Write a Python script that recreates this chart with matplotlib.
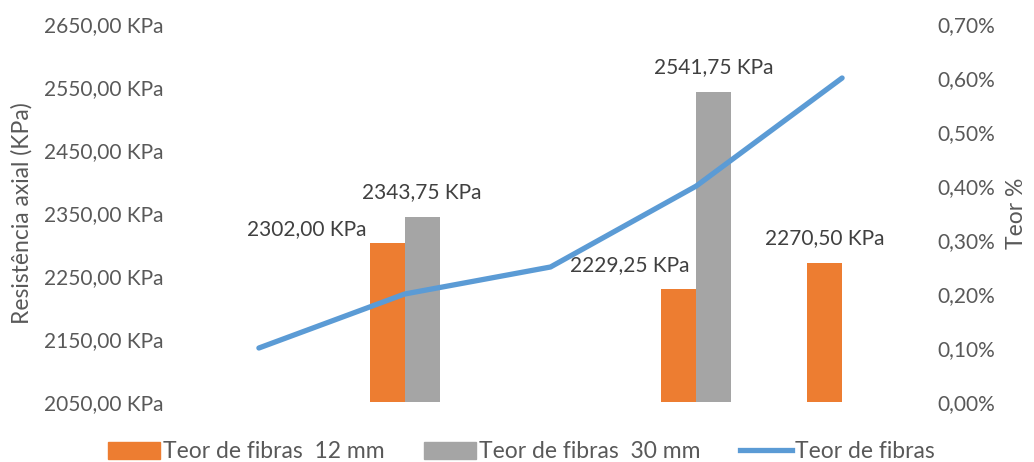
import numpy as np
import matplotlib.pyplot as plt
from matplotlib.ticker import FuncFormatter
from matplotlib.patches import Patch
from matplotlib.lines import Line2D

plt.rcParams['font.family'] = ['Lato', 'DejaVu Sans']

# dados do ensaio
categorias = ["1", "2", "3", "4", "5"]
res_12mm = [np.nan, 2302.00, np.nan, 2229.25, 2270.50]
res_30mm = [np.nan, 2343.75, np.nan, 2541.75, np.nan]
teor_fibras = [0.10, 0.20, 0.25, 0.40, 0.60]   # em %

laranja = "#ED7D31"
cinza = "#A5A5A5"
azul = "#5B9BD5"
txt = "#595959"
rot = "#404040"

fig = plt.figure(figsize=(10.34, 4.62), dpi=100)
ax = fig.add_axes([186 / 1034, 60 / 462, 729 / 1034, 378 / 462])
ax2 = ax.twinx()

x = np.arange(len(categorias))
w = 0.24
b1 = ax.bar(x - w / 2, np.array(res_12mm) - 2050, w, bottom=2050, color=laranja)
b2 = ax.bar(x + w / 2, np.array(res_30mm) - 2050, w, bottom=2050, color=cinza)

ax2.plot(x, teor_fibras, color=azul, lw=3.8, solid_capstyle='round', solid_joinstyle='round')

ax.set_xlim(-0.5, len(categorias) - 0.5)
ax.set_ylim(2050, 2650)
ax.set_yticks(np.arange(2050, 2651, 100))
ax2.set_ylim(0, 0.7)
ax2.set_yticks(np.arange(0, 0.71, 0.1))

fmt_kpa = FuncFormatter(lambda v, p: f"{v:.2f}".replace(".", ",") + " KPa")
fmt_pct = FuncFormatter(lambda v, p: f"{v:.2f}".replace(".", ",") + "%")
ax.yaxis.set_major_formatter(fmt_kpa)
ax2.yaxis.set_major_formatter(fmt_pct)

for a in (ax, ax2):
    for s in a.spines.values():
        s.set_visible(False)
    a.tick_params(length=0, labelsize=15, colors=txt)
ax.set_xticks([])
ax.tick_params(axis='y', pad=16.5)
ax2.tick_params(axis='y', pad=16)

ax.set_ylabel("Resistência axial (KPa)", fontsize=16.5, color=txt, labelpad=8)
ax2.set_ylabel("Teor %", fontsize=16.5, color=txt, labelpad=8)

# rótulos de dados (deslocamento em px)
desl_12 = [None, (-80, 14), None, (-49, 24), (0, 25)]
desl_30 = [None, (0, 25), None, (0, 25), None]
for barras, vals, desl in ((b1, res_12mm, desl_12), (b2, res_30mm, desl_30)):
    for bar, v, d in zip(barras, vals, desl):
        if np.isnan(v):
            continue
        ax.annotate(f"{v:.2f}".replace(".", ",") + " KPa",
                    xy=(bar.get_x() + bar.get_width() / 2, v),
                    xytext=(d[0] * 0.72, d[1] * 0.72), textcoords='offset points',
                    ha='center', va='center', fontsize=15, color=rot)

handles = [Patch(color=laranja), Patch(color=cinza), Line2D([], [], color=azul, lw=3.8)]
labels = ["Teor de fibras  12 mm", "Teor de fibras  30 mm", "Teor de fibras"]
leg = fig.legend(handles, labels, loc='center', bbox_to_anchor=(0.504, 10 / 462), ncol=3,
                 frameon=False, fontsize=16.5, handlelength=2.3, handleheight=0.75,
                 handletextpad=0.12, columnspacing=1.7)
for t in leg.get_texts():
    t.set_color(txt)

fig.savefig("out.png", dpi=100)
